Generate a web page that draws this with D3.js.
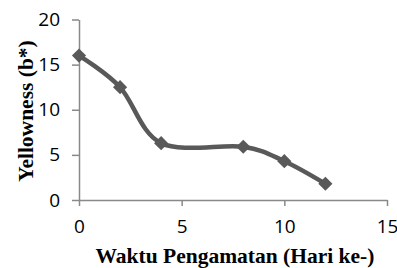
<!DOCTYPE html>
<html>
<head>
<meta charset="utf-8">
<script src="https://cdn.jsdelivr.net/npm/d3@7"></script>
<style>
body { margin: 0; background: #fff; }
.axis path, .axis line { stroke: #898989; stroke-width: 1.5; }
.axis text { font-family: "Open Sans", sans-serif; font-size: 19px; fill: #000; }
.title { font-family: "Liberation Serif", serif; font-weight: bold; font-size: 21.5px; fill: #000; }
</style>
</head>
<body>
<svg width="397" height="268"></svg>
<script>
var days = [0, 2, 4, 8, 10, 12];
var yellowness = [16.0, 12.5, 6.3, 5.9, 4.3, 1.8];
var xTicks = [0, 5, 10, 15];
var yTicks = [0, 5, 10, 15, 20];

var svg = d3.select("svg");
var data = days.map(function(d, i){ return {day: d, val: yellowness[i]}; });

var x = d3.scaleLinear().domain([0, 15]).range([79, 387]);
var y = d3.scaleLinear().domain([0, 20]).range([200, 19.5]);

svg.append("g")
    .attr("class", "axis")
    .attr("transform", "translate(0,200)")
    .call(d3.axisBottom(x).tickValues(xTicks).tickSize(6).tickPadding(14).tickSizeOuter(0));

svg.append("g")
    .attr("class", "axis")
    .attr("transform", "translate(79,0)")
    .call(d3.axisLeft(y).tickValues(yTicks).tickSize(7).tickPadding(12).tickSizeOuter(0));

var line = d3.line()
    .x(function(d){ return x(d.day); })
    .y(function(d){ return y(d.val); })
    .curve(d3.curveCardinal.tension(0));

svg.append("path")
    .datum(data)
    .attr("fill", "none")
    .attr("stroke", "#595959")
    .attr("stroke-width", 4.5)
    .attr("d", line);

svg.selectAll(".mark")
    .data(data)
    .enter().append("path")
    .attr("class", "mark")
    .attr("d", d3.symbol().type(d3.symbolSquare).size(100))
    .attr("fill", "#595959")
    .attr("transform", function(d){ return "translate(" + x(d.day) + "," + y(d.val) + ") rotate(45)"; });

svg.append("text")
    .attr("class", "title")
    .attr("text-anchor", "middle")
    .attr("x", 235)
    .attr("y", 263)
    .text("Waktu Pengamatan (Hari ke-)");

svg.append("text")
    .attr("class", "title")
    .attr("text-anchor", "middle")
    .attr("transform", "translate(33,111) rotate(-90)")
    .text("Yellowness (b*)");
</script>
</body>
</html>
